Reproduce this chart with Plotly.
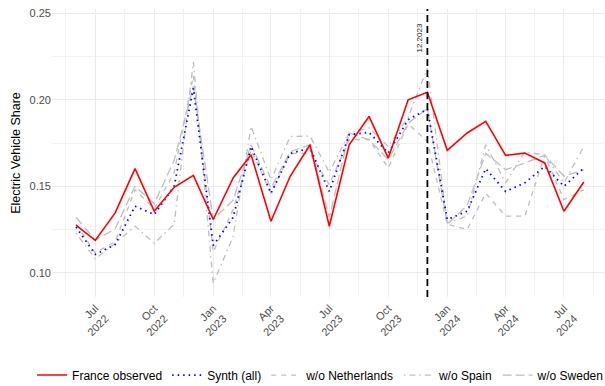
import pandas as pd
import plotly.graph_objects as go

months = pd.date_range("2022-06-01", periods=27, freq="MS")

france = [0.1275, 0.1187, 0.1346, 0.1602, 0.1356, 0.1494, 0.1563, 0.1308, 0.1548, 0.1683,
          0.1298, 0.1558, 0.1740, 0.1269, 0.1740, 0.1904, 0.1663, 0.2000, 0.2044, 0.1708,
          0.1808, 0.1875, 0.1679, 0.1692, 0.1635, 0.1356, 0.1525]
synth = [0.1265, 0.1106, 0.1163, 0.1385, 0.1337, 0.1500, 0.2067, 0.1158, 0.1320, 0.1730,
         0.1460, 0.1690, 0.1720, 0.1470, 0.1798, 0.1812, 0.1692, 0.1885, 0.1946, 0.1308,
         0.1356, 0.1602, 0.1470, 0.1520, 0.1615, 0.1500, 0.1606]
wo_netherlands = [0.1280, 0.1115, 0.1180, 0.1480, 0.1370, 0.1580, 0.2140, 0.1120, 0.1365, 0.1710,
                  0.1460, 0.1690, 0.1690, 0.1510, 0.1770, 0.1770, 0.1606, 0.1860, 0.1760, 0.1280,
                  0.1250, 0.1460, 0.1327, 0.1327, 0.1680, 0.1423, 0.1480]
wo_spain = [0.1230, 0.1080, 0.1170, 0.1270, 0.1170, 0.1280, 0.2220, 0.0940, 0.1210, 0.1846,
            0.1538, 0.1788, 0.1790, 0.1580, 0.1808, 0.1837, 0.1730, 0.1900, 0.2183, 0.1288,
            0.1327, 0.1740, 0.1520, 0.1700, 0.1680, 0.1520, 0.1730]
wo_sweden = [0.1320, 0.1190, 0.1254, 0.1500, 0.1400, 0.1650, 0.2077, 0.1308, 0.1420, 0.1740,
             0.1490, 0.1700, 0.1740, 0.1320, 0.1808, 0.1770, 0.1654, 0.1865, 0.1950, 0.1280,
             0.1390, 0.1690, 0.1596, 0.1635, 0.1680, 0.1558, 0.1596]

treat_date = "2023-12-01"
treat_label = "12.2023"
y_title = "Electric Vehicle Share"

tick_dates = pd.date_range("2022-07-01", "2024-07-01", freq="3MS")
tick_text = [d.strftime("%b") + "<br>" + d.strftime("%Y") for d in tick_dates]
minor_dates = [tick_dates[0] - (tick_dates[1] - tick_dates[0]) / 2] + \
    [tick_dates[i] + (tick_dates[i + 1] - tick_dates[i]) / 2 for i in range(len(tick_dates) - 1)] + \
    [tick_dates[-1] + (tick_dates[-1] - tick_dates[-2]) / 2]

FONT = "Liberation Sans, Arial, sans-serif"
GREY = "#BEBEBE"

fig = go.Figure()
series = [
    ("France observed", france, dict(color="red", width=1.6, dash="solid")),
    ("Synth (all)", synth, dict(color="blue", width=1.8, dash="1.5px,4px")),
    ("w/o Netherlands", wo_netherlands, dict(color=GREY, width=1.3, dash="5px,5px")),
    ("w/o Spain", wo_spain, dict(color=GREY, width=1.3, dash="1.5px,4px,6px,4px")),
    ("w/o Sweden", wo_sweden, dict(color=GREY, width=1.3, dash="9px,4px")),
]
for name, vals, line in series[::-1]:
    fig.add_trace(go.Scatter(x=months, y=vals, mode="lines", name=name, line=line))

fig.add_shape(type="line", x0=treat_date, x1=treat_date, y0=0, y1=1, xref="x", yref="paper",
              line=dict(color="black", width=1.8, dash="7px,4px"))
fig.add_annotation(x=treat_date, y=0.2455, xref="x", yref="y", text=treat_label, textangle=-90,
                   showarrow=False, xanchor="right", yanchor="top", xshift=-1,
                   font=dict(family=FONT, size=8, color="#222222"))

fig.update_layout(
    width=605, height=386,
    margin=dict(l=52, r=0, t=9, b=89, autoexpand=False),
    paper_bgcolor="white", plot_bgcolor="white",
    font=dict(family=FONT, size=12, color="black"),
    legend=dict(orientation="h", xref="paper", yref="paper",
                x=-0.036, xanchor="left", y=-0.271, yanchor="middle",
                traceorder="reversed", font=dict(size=12, color="black"),
                itemwidth=30, tracegroupgap=0),
    showlegend=True,
)
fig.update_xaxes(
    range=["2022-04-24 12:00", "2024-09-03"], type="date", automargin=False,
    tickmode="array", tickvals=tick_dates, ticktext=tick_text, tickangle=-45,
    tickfont=dict(family=FONT, size=11, color="#4D4D4D"),
    showgrid=True, gridcolor="#EBEBEB", gridwidth=1, zeroline=False, showline=False,
    ticks="", ticklabelstandoff=2,
    minor=dict(tickmode="array", tickvals=minor_dates, showgrid=True, gridcolor="#F2F2F2", gridwidth=1),
)
fig.update_yaxes(
    range=[0.086, 0.2525], tickmode="array", tickvals=[0.10, 0.15, 0.20, 0.25], automargin=False,
    ticktext=["0.10", "0.15", "0.20", "0.25"],
    tickfont=dict(family=FONT, size=11, color="#4D4D4D"),
    showgrid=True, gridcolor="#EBEBEB", gridwidth=1, zeroline=False, showline=False, ticks="",
    minor=dict(tickmode="array", tickvals=[0.125, 0.175, 0.225], showgrid=True, gridcolor="#F2F2F2", gridwidth=1),
    title=dict(text=y_title, font=dict(family=FONT, size=12.5, color="black"), standoff=6),
)

fig.write_html("out.html")
